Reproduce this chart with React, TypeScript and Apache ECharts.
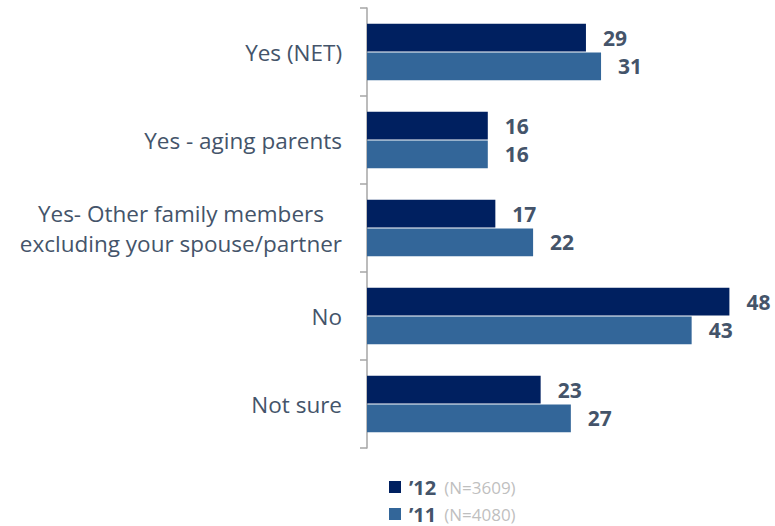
import React, { useEffect, useRef } from "react";
import * as echarts from "echarts";

const categories = [
  "Yes (NET)",
  "Yes - aging parents",
  "Yes- Other family members\nexcluding your spouse/partner",
  "No",
  "Not sure",
];
const seriesNames = ["’12", "’11"];
const sampleSizes = ["(N=3609)", "(N=4080)"];
const values12 = [29, 16, 17, 48, 23];
const values11 = [31, 16, 22, 43, 27];
const colors = ["#002060", "#336699"];

const FONT = "'Open Sans', 'Noto Sans', sans-serif";
const TEXT = "#44546A";

export default function App() {
  const ref = useRef<HTMLDivElement>(null);
  useEffect(() => {
    if (!ref.current) return;
    const chart = echarts.init(ref.current, undefined, { renderer: "svg" });
    const labelCfg = {
      show: true,
      position: "right",
      distance: 17,
      fontFamily: FONT,
      fontSize: 21,
      fontWeight: "bold",
      color: TEXT,
    };
    chart.setOption({
      animation: false,
      grid: { left: 367, top: 8, bottom: 78, right: 30.5, containLabel: false },
      legend: {
        orient: "vertical",
        left: 389,
        top: 476,
        height: 60,
        padding: 0,
        itemWidth: 12,
        itemHeight: 12,
        itemGap: 5,
        icon: "rect",
        data: seriesNames,
        formatter: (name: string) => {
          const i = seriesNames.indexOf(name);
          return `{a|${name}}{b|${sampleSizes[i]}}`;
        },
        textStyle: {
          lineHeight: 22,
          rich: {
            a: { fontFamily: FONT, fontSize: 20, fontWeight: "bold", color: TEXT, lineHeight: 22, padding: [0, 8, 0, 3] },
            b: { fontFamily: FONT, fontSize: 17, color: "#BFBFBF", lineHeight: 22 },
          },
        },
      },
      xAxis: {
        type: "value",
        min: 0,
        max: 50,
        show: false,
      },
      yAxis: {
        type: "category",
        inverse: true,
        data: categories,
        axisLine: { show: true, lineStyle: { color: "#A6A6A6", width: 1.5 } },
        axisTick: { show: true, length: 7, lineStyle: { color: "#A6A6A6", width: 1.5 } },
        axisLabel: {
          margin: 25,
          fontFamily: FONT,
          fontSize: 22.5,
          color: TEXT,
          formatter: (v: string) =>
            v
              .split("\n")
              .map((l) => `{c|${l}}`)
              .join("\n"),
          rich: {
            c: { fontFamily: FONT, fontSize: 22.5, color: TEXT, align: "center", lineHeight: 30 },
          },
        },
        splitLine: { show: false },
      },
      series: [
        {
          name: seriesNames[0],
          type: "bar",
          data: values12,
          barGap: "4%",
          barCategoryGap: "36%",
          itemStyle: { color: colors[0] },
          label: labelCfg,
        },
        {
          name: seriesNames[1],
          type: "bar",
          data: values11,
          barGap: "4%",
          barCategoryGap: "36%",
          itemStyle: { color: colors[1] },
          label: labelCfg,
        },
      ],
    });
    return () => chart.dispose();
  }, []);
  return <div ref={ref} style={{ width: 775, height: 526, position: "absolute", left: 0, top: 0 }} />;
}
